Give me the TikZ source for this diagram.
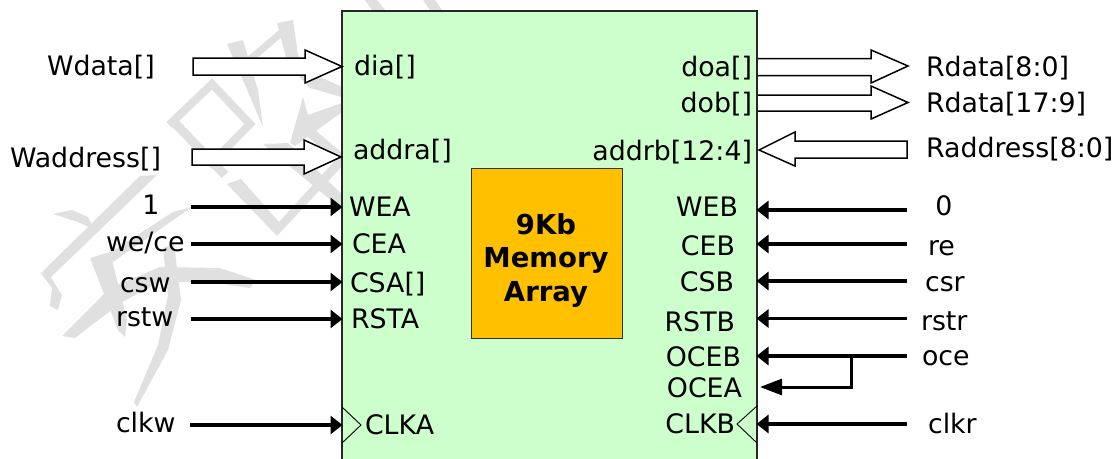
\documentclass[tikz,border=0pt]{standalone}
\usepackage{fontspec}
\setmainfont{DejaVu Sans}
\usetikzlibrary{arrows.meta}
\definecolor{chipgreen}{HTML}{CCFFCC}
\definecolor{coreorange}{HTML}{FFC000}
\tikzset{
  wm/.style={fill=black!12,draw=none},
  wmline/.style={draw=black!12,line width=#1,line cap=butt},
  block/.style={draw=black!85,line width=1.3pt,fill=#1},
  bus/.style={draw=black,line width=1.5pt,fill=white,line join=miter},
  wire/.style={draw=black,line width=3.4pt,-{Triangle[length=12pt,width=18pt]},shorten >=-0.5pt},
  clk/.style={draw=black,line width=0.9pt},
  lab/.style={inner sep=0pt,outer sep=0pt,font=\fontsize{26.8}{26.8}\selectfont},
  bl/.style={lab,anchor=base west},
  br/.style={lab,anchor=base east},
  bc/.style={lab,anchor=base},
  core/.style={inner sep=0pt,outer sep=0pt,anchor=base,font=\fontsize{27.5}{27.5}\selectfont\bfseries}
}
\begin{document}
\begin{tikzpicture}[x=1pt,y=-1pt]
\useasboundingbox (0,0) rectangle (1118,458);
% watermark
\fill[wm] (227,44) -- (243,40) -- (258,90) -- (263,127) -- (248,92) -- cycle;
\fill[wm] (277,23) -- (293,20) -- (298,55) -- (315,75) -- (345,88) -- (345,98) -- (310,88) -- (288,65) -- cycle;
\draw[wmline=7pt] (247,62) -- (281,33);
\draw[wmline=8pt] (169,125) -- (212,84) -- (250,124) -- (209,166);
\draw[wmline=9pt] (172,120) -- (225,175);
\fill[wm] (345,102) -- (345,110) -- (295,146) -- (290,143) -- (303,97) -- (308,115) -- cycle;
\draw[wmline=10pt] (298,122) -- (345,162);
\fill[wm] (263,144) -- (288,143) -- (345,197) -- (345,212) -- cycle;
\fill[wm] (227,184) -- (241,179) -- (279,222) -- (340,155) -- (345,163) -- (277,236) -- cycle;
\fill[wm] (365,0) -- (377,0) -- (385,10) -- (372,10) -- cycle;
\fill[wm] (423,0) -- (435,0) -- (442,10) -- (430,10) -- cycle;
\fill[wm] (140,176) -- (157,175) -- (50,278) -- (42,272) -- cycle;
\fill[wm] (40,272) -- (50,276) -- (62,295) -- (58,310) -- (50,306) -- (52,288) -- cycle;
\fill[wm] (53,214) -- (72,210) -- (88,217) -- (95,230) -- (78,222) -- cycle;
\fill[wm] (173,212) -- (192,207) -- (113,262) -- (105,256) -- cycle;
\fill[wm] (90,258) -- (110,252) -- (127,320) -- (125,337) -- (118,330) -- cycle;
\fill[wm] (62,336) -- (110,288) -- (160,267) -- (220,268) -- (256,280) -- (250,288) -- (210,282) -- (160,282) -- (122,302) -- (75,338) -- cycle;
\fill[wm] (163,248) -- (174,244) -- (181,300) -- (168,350) -- (137,407) -- (134,402) -- (158,345) -- (168,295) -- cycle;
% chip
\path[block=chipgreen] (342,11) rectangle (757,470);
\node[draw=black!80,line width=1pt,fill=coreorange,minimum width=151pt,minimum height=170pt,inner sep=0pt] (core) at (546.5,253) {};
\node[core] (t1) at (546,234) {9Kb};
\node[core] (t2) at (546,267) {Memory};
\node[core] (t3) at (546,301) {Array};
% clock marks
\draw[clk] (342,407) -- (361,425) -- (342,443);
\draw[clk] (757,406) -- (737,424) -- (757,443);
% bus arrows
\draw[bus] (193,58) -- (305,58) -- (305,50) -- (342,66.5) -- (305,83) -- (305,75) -- (193,75) -- cycle;
\draw[bus] (192,149) -- (304,149) -- (304,140) -- (341,157) -- (304,174) -- (304,165) -- (192,165) -- cycle;
\draw[bus] (758,95) -- (871,95) -- (871,86) -- (908,102.5) -- (871,119) -- (871,111) -- (758,111);
\draw[bus] (758,58.5) -- (871,58.5) -- (871,50) -- (908,66) -- (871,83) -- (871,75.5) -- (758,75.5);
\draw[bus] (759,150) -- (795,132) -- (795,141) -- (907,141) -- (907,158) -- (795,158) -- (795,166) -- cycle;
% left wires
\foreach \n/\yy/\x in {wea/207/191,cea/244/191,csa/282/191,rsta/319/191,clka/425/190}{
  \coordinate (\n L) at (\x,\yy);
  \coordinate (\n P) at (342,\yy);
  \draw[wire] (\n L) -- (\n P);
}
% right wires
\foreach \n/\yy in {web/210,ceb/244,csb/281,rstb/318.5,oceb/356,clkb/424}{
  \coordinate (\n R) at (907,\yy);
  \coordinate (\n P) at (757,\yy);
  \draw[wire] (\n R) -- (\n P);
}
\coordinate (jn) at (851,356);
\coordinate (ocea) at (760,387);
\draw[draw=black,line width=3pt,-{Triangle[length=22pt,width=16pt]}] (jn) |- (ocea);
% left outer labels
\node[bl] (wdata) at (47,75) {Wdata[]};
\node[bl] (waddr) at (10,167) {Waddress[]};
\node[bc] (one) at (151,214) {1};
\node[bl] (wece) at (106,251) {we/ce};
\node[bl] (csw) at (120,292) {csw};
\node[bl] (rstw) at (116,326) {rstw};
\node[bl] (clkw) at (116,432) {clkw};
% left pins
\node[bl] (dia) at (354,75) {dia[]};
\node[bl] (addra) at (353,159) {addra[]};
\node[bl] (wea) at (349,216) {WEA};
\node[bl] (cea) at (352,253) {CEA};
\node[bl] (csa) at (350,292) {CSA[]};
\node[bl] (rsta) at (351,328) {RSTA};
\node[bl] (clka) at (365,434) {CLKA};
% right pins
\node[br] (doa) at (752,76) {doa[]};
\node[br] (dob) at (752,112) {dob[]};
\node[br] (addrb) at (752,160) {addrb[12:4]};
\node[br] (web) at (738,216) {WEB};
\node[br] (ceb) at (735,255) {CEB};
\node[br] (csb) at (734,291) {CSB};
\node[br] (rstb) at (735,331) {RSTB};
\node[br] (oceb) at (741,366) {OCEB};
\node[br] (ocealab) at (742,397) {OCEA};
\node[br] (clkb) at (735,433) {CLKB};
% right outer labels
\node[bl] (rd0) at (926,76) {Rdata[8:0]};
\node[bl] (rd1) at (926,112) {Rdata[17:9]};
\node[bl] (radd) at (926,157) {Raddress[8:0]};
\node[bc] (zero) at (944,215) {0};
\node[bl] (re) at (928,255) {re};
\node[bl] (csr) at (925,291) {csr};
\node[bl] (rstr) at (921,330) {rstr};
\node[bl] (oce) at (922,365) {oce};
\node[bl] (clkr) at (928,433) {clkr};
\end{tikzpicture}
\end{document}
